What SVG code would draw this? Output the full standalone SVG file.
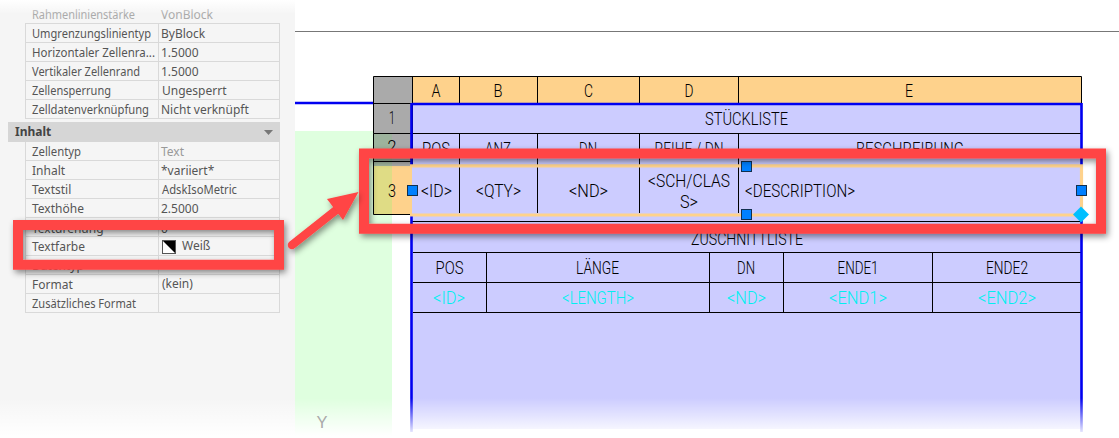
<svg xmlns="http://www.w3.org/2000/svg" width="1119" height="438" viewBox="0 0 1119 438">
<defs>
<linearGradient id="fadeBottom" x1="0" y1="0" x2="0" y2="1"><stop offset="0" stop-color="#fff" stop-opacity="0"/><stop offset="1" stop-color="#fff" stop-opacity="1"/></linearGradient>
<linearGradient id="fadeTop" x1="0" y1="0" x2="0" y2="1"><stop offset="0" stop-color="#fff" stop-opacity="1"/><stop offset="1" stop-color="#fff" stop-opacity="0"/></linearGradient>
<filter id="sh" x="-10%" y="-30%" width="120%" height="160%"><feDropShadow dx="2" dy="3" stdDeviation="3" flood-color="#000" flood-opacity="0.45"/></filter>
</defs>
<style>
.p{font-family:"Noto Sans","Liberation Sans",sans-serif;font-size:12px;fill:#555}
.v{fill:#999}
.g{fill:none;stroke:#d9d9d9;stroke-width:1}
.t{font-family:Roboto,"Liberation Sans",sans-serif;font-weight:300;font-size:18px;fill:#000;text-anchor:middle}
.c{fill:#00f0f0}
.k{fill:none;stroke:#000;stroke-width:1}
.b{fill:none;stroke:#0000f0;stroke-width:2.6}
.h{fill:#0080ff;stroke:#12304f;stroke-width:1}
.r{fill:#ff4444;fill-rule:evenodd;filter:url(#sh)}
</style>
<rect width="1119" height="438" fill="#fff"/>
<path d="M295 31.500H1119" stroke="#777" stroke-width="1"/>
<path d="M295 103H373" stroke="#0000f0" stroke-width="2.6"/>
<rect x="295" y="131" width="97" height="307" fill="#dfffdf"/>
<g id="panel">
<rect x="0" y="0" width="295" height="438" fill="#f5f5f5"/>
<path class="g" d="M25.500 23.500H279.500M25.500 42.500H279.500M25.500 61.500H279.500M25.500 80.500H279.500M25.500 99.500H279.500M25.500 118.500H279.500M25.500 160.500H279.500M25.500 179.500H279.500M25.500 198.500H279.500M25.500 217.500H279.500M25.500 236.500H279.500M25.500 255.500H279.500M25.500 274.500H279.500M25.500 293.500H279.500M25.500 312.500H279.500M25.500 23V119M158.500 23V119M279.500 23V119M25.500 142V313M158.500 142V313M279.500 142V313"/>
<rect x="8" y="122" width="272" height="20" fill="#d6d6d6"/>
<text class="p" x="15" y="136" style="font-weight:700;fill:#444">Inhalt</text>
<path d="M264 130H273L268.500 135Z" fill="#777"/>
<text class="p" x="32" y="19" textLength="103" lengthAdjust="spacingAndGlyphs" style="fill:#aaa">Rahmenlinienstärke</text><text class="p" x="161" y="19" style="fill:#aaa">VonBlock</text>
<text class="p" x="32" y="38" textLength="119" lengthAdjust="spacingAndGlyphs">Umgrenzungslinientyp</text><text class="p" x="161" y="38">ByBlock</text>
<text class="p" x="32" y="57" textLength="123" lengthAdjust="spacingAndGlyphs">Horizontaler  Zellenra...</text><text class="p" x="161" y="57">1.5000</text>
<text class="p" x="32" y="76" textLength="108" lengthAdjust="spacingAndGlyphs">Vertikaler Zellenrand</text><text class="p" x="161" y="76">1.5000</text>
<text class="p" x="32" y="95" textLength="79" lengthAdjust="spacingAndGlyphs">Zellensperrung</text><text class="p" x="162" y="95">Ungesperrt</text>
<text class="p" x="32" y="114" textLength="117" lengthAdjust="spacingAndGlyphs">Zelldatenverknüpfung</text><text class="p" x="161" y="114">Nicht verknüpft</text>
<text class="p" x="32" y="156" textLength="49" lengthAdjust="spacingAndGlyphs">Zellentyp</text><text class="p v" x="161" y="156">Text</text>
<text class="p" x="32" y="175">Inhalt</text><text class="p" x="161" y="175">*variiert*</text>
<text class="p" x="32" y="194">Textstil</text><text class="p" x="162" y="194" textLength="75" lengthAdjust="spacingAndGlyphs">AdskIsoMetric</text>
<text class="p" x="32" y="213">Texthöhe</text><text class="p" x="161" y="213">2.5000</text>
<text class="p" x="32" y="233">Textdrehung</text><text class="p" x="161" y="233">0</text>
<text class="p" x="32" y="251">Textfarbe</text>
<rect x="162.500" y="240.500" width="13" height="13" fill="#fff" stroke="#555"/><path d="M163 241H175V253Z" fill="#000"/>
<text class="p" x="182" y="250">Weiß</text>
<text class="p" x="32" y="270">Datentyp</text>
<text class="p" x="32" y="289">Format</text><text class="p" x="162" y="288">(kein)</text>
<text class="p" x="32" y="308" textLength="104" lengthAdjust="spacingAndGlyphs">Zusätzliches Format</text>
</g>
<g id="table">
<rect x="373.500" y="76.500" width="38.500" height="90" fill="#aaa"/>
<rect x="373" y="133" width="19" height="33" fill="#9db39d"/>
<rect x="412" y="76.500" width="669" height="27" fill="#fed28c"/>
<rect x="412" y="104" width="669" height="325" fill="#ccccff"/>
<rect x="373.500" y="166" width="18.500" height="48.500" fill="#dfdc85"/>
<rect x="392" y="166" width="20" height="48.500" fill="#fed28c"/>
<rect x="392" y="215" width="19" height="9" fill="#fff"/>
<path class="k" d="M373.500 76.500H1081.500V103.500M373.500 76.500V133.500M412.500 76.500V166M459.500 76.500V103.500M537.500 76.500V103.500M639.500 76.500V103.500M738.500 76.500V103.500M373.500 103.500H412.500M373.500 133.500H1081M373.500 133.500V214.500H410M459.500 133.500V166M537.500 133.500V166M639.500 133.500V166M738.500 133.500V166M459.500 166V213M537.500 166V213M639.500 166V213M738.500 166V213M412 221.500H1081M413 252.500H1081M413 282.500H1081M413 312.500H1081M486.500 252.500V312.500M709.500 252.500V312.500M783.500 252.500V312.500M932.500 252.500V312.500"/>
<path class="k" d="M373.500 161.500H412"/>
<path class="b" d="M412 104H1081M411.500 103V166M411.500 216V432M1081.500 103V432"/>
<path d="M410 165.800H1081.500V215H410" fill="none" stroke="#fed28c" stroke-width="3.200"/>
<path d="M1081.500 165V215" stroke="#fed28c" stroke-width="2.500"/>
<g id="labels">
<text class="t" x="436" y="97" textLength="9" lengthAdjust="spacingAndGlyphs">A</text><text class="t" x="498" y="97" textLength="9" lengthAdjust="spacingAndGlyphs">B</text><text class="t" x="588.500" y="97" textLength="9" lengthAdjust="spacingAndGlyphs">C</text><text class="t" x="689" y="97" textLength="9" lengthAdjust="spacingAndGlyphs">D</text><text class="t" x="909" y="97" textLength="8" lengthAdjust="spacingAndGlyphs">E</text>
<text class="t" x="392" y="124" textLength="6" lengthAdjust="spacingAndGlyphs">1</text><text class="t" x="392" y="153" textLength="9" lengthAdjust="spacingAndGlyphs">2</text><text class="t" x="392" y="197" textLength="8" lengthAdjust="spacingAndGlyphs">3</text>
<text class="t" x="746.500" y="125" textLength="83" lengthAdjust="spacingAndGlyphs">STÜCKLISTE</text>
<text class="t" x="436" y="155" textLength="28" lengthAdjust="spacingAndGlyphs">POS</text><text class="t" x="498" y="155" textLength="26" lengthAdjust="spacingAndGlyphs">ANZ</text><text class="t" x="588" y="155" textLength="18" lengthAdjust="spacingAndGlyphs">DN</text><text class="t" x="689" y="155" textLength="69" lengthAdjust="spacingAndGlyphs">REIHE / DN</text><text class="t" x="910" y="155" textLength="108" lengthAdjust="spacingAndGlyphs">BESCHREIBUNG</text>
<text class="t" x="436.500" y="197" textLength="31" lengthAdjust="spacingAndGlyphs">&lt;ID&gt;</text>
<text class="t" x="498.500" y="197" textLength="45" lengthAdjust="spacingAndGlyphs">&lt;QTY&gt;</text>
<text class="t" x="588.500" y="197" textLength="39" lengthAdjust="spacingAndGlyphs">&lt;ND&gt;</text>
<text class="t" x="689" y="187" textLength="82" lengthAdjust="spacingAndGlyphs">&lt;SCH/CLAS</text>
<text class="t" x="689" y="208" textLength="18" lengthAdjust="spacingAndGlyphs">S&gt;</text>
<text class="t" x="800" y="197" textLength="110" lengthAdjust="spacingAndGlyphs">&lt;DESCRIPTION&gt;</text>
<text class="t" x="747" y="245" textLength="112" lengthAdjust="spacingAndGlyphs">ZUSCHNITTLISTE</text>
<text class="t" x="449.500" y="274" textLength="28" lengthAdjust="spacingAndGlyphs">POS</text>
<text class="t" x="597.500" y="274" textLength="43" lengthAdjust="spacingAndGlyphs">LÄNGE</text>
<text class="t" x="746" y="274" textLength="18" lengthAdjust="spacingAndGlyphs">DN</text>
<text class="t" x="858" y="274" textLength="41" lengthAdjust="spacingAndGlyphs">ENDE1</text>
<text class="t" x="1007" y="274" textLength="42" lengthAdjust="spacingAndGlyphs">ENDE2</text>
<text class="t c" x="449" y="304" textLength="32" lengthAdjust="spacingAndGlyphs">&lt;ID&gt;</text>
<text class="t c" x="598" y="304" textLength="72" lengthAdjust="spacingAndGlyphs">&lt;LENGTH&gt;</text>
<text class="t c" x="746.500" y="304" textLength="39" lengthAdjust="spacingAndGlyphs">&lt;ND&gt;</text>
<text class="t c" x="858" y="304" textLength="58" lengthAdjust="spacingAndGlyphs">&lt;END1&gt;</text>
<text class="t c" x="1007" y="304" textLength="58" lengthAdjust="spacingAndGlyphs">&lt;END2&gt;</text>
</g>
<g id="grips">
<rect class="h" x="407.500" y="185.500" width="10" height="10"/>
<rect class="h" x="741.500" y="161.500" width="10" height="10"/>
<rect class="h" x="741.500" y="209.500" width="10" height="10"/>
<rect class="h" x="1076.500" y="185.500" width="10" height="10"/>
<path d="M1081 206.500L1089 214.500L1081 222.500L1073 214.500Z" fill="#00bfff"/>
</g>
</g>
<rect x="0" y="398" width="1119" height="38" fill="url(#fadeBottom)"/>
<rect x="0" y="436" width="1119" height="2" fill="#fff"/>
<text x="322" y="428" text-anchor="middle" font-family="Liberation Sans, sans-serif" font-size="17" fill="#aaa" textLength="11" lengthAdjust="spacingAndGlyphs">Y</text>
<rect x="0" y="0" width="295" height="14" fill="url(#fadeTop)"/>
<g id="callouts">
<path class="r" d="M359 148.500H1106V233.700H359ZM369 158.500V223.700H1096V158.500Z"/>
<path class="r" d="M13 220H284V269.700H13ZM23 230V259.700H274V230Z"/>
<g style="filter:url(#sh)">
<path d="M292 245L340 207" stroke="#ff4444" stroke-width="8.500" stroke-linecap="round" fill="none"/>
<path d="M358.500 192L327 199L343 220Z" fill="#ff4444"/>
</g>
</g>
</svg>
